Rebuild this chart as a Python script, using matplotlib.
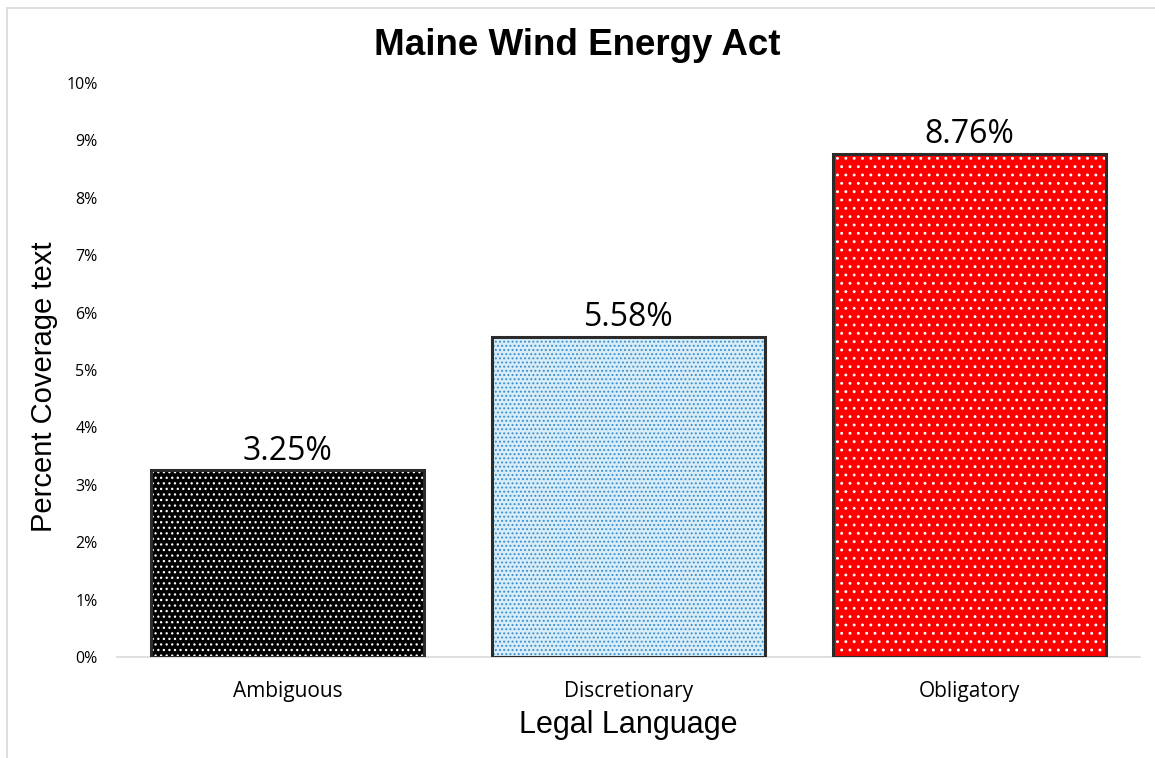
import matplotlib.pyplot as plt
from matplotlib.lines import Line2D
from matplotlib.ticker import PercentFormatter

categories = ['Ambiguous', 'Discretionary', 'Obligatory']
coverage = [3.25, 5.58, 8.76]
face_colors = ['#000000', '#d8edf8', '#ff0000']
dot_colors = ['#ffffff', '#3b8fcc', '#ffffff']
hatches = ['...', '....', '..']

plt.rcParams['hatch.linewidth'] = 0.9

fig = plt.figure(figsize=(11.55, 7.58), dpi=100)
ax = fig.add_axes([0.1013, 0.1332, 0.8857, 0.7573])

x = range(len(categories))
# filled bars carry the dot pattern, a second pass draws the dark outline
for i in x:
    ax.bar(i, coverage[i], width=0.8, color=face_colors[i], edgecolor=dot_colors[i],
           hatch=hatches[i], linewidth=0, zorder=2)
ax.bar(x, coverage, width=0.8, fill=False, edgecolor='#2b2b2b', linewidth=2.2, zorder=3)

for i in x:
    ax.text(i, coverage[i] + 0.19, f'{coverage[i]:.2f}%', ha='center', va='baseline',
            fontsize=23, family='Open Sans')

ax.set_xlim(-0.5, 2.5)
ax.set_ylim(0, 10)
ax.set_yticks(range(0, 11))
ax.yaxis.set_major_formatter(PercentFormatter(decimals=0))
ax.set_xticks(list(x))
ax.set_xticklabels(categories, family='Open Sans', fontsize=15)
for lbl in ax.get_yticklabels():
    lbl.set_family('Open Sans')
    lbl.set_fontsize(11.5)
ax.tick_params(length=0)
ax.tick_params(axis='x', pad=17)
ax.tick_params(axis='y', pad=14)

for side in ['top', 'right', 'left']:
    ax.spines[side].set_visible(False)
ax.spines['bottom'].set_color('#d9d9d9')
ax.spines['bottom'].set_linewidth(1.2)

ax.set_xlabel('Legal Language', family='Liberation Sans', fontsize=22, va='center')
ax.xaxis.set_label_coords(0.5, -0.118)
ax.set_ylabel('Percent Coverage text', family='Liberation Sans', fontsize=21, va='center')
ax.yaxis.set_label_coords(-0.0713, 0.47)
fig.text(0.5, 0.9406, 'Maine Wind Energy Act', family='Liberation Sans', fontweight='bold',
         fontsize=26.5, ha='center', va='center')

# thin frame around the chart area
fig.add_artist(Line2D([0.006, 1.0], [0.9895, 0.9895], color='#d9d9d9', linewidth=1.2))
fig.add_artist(Line2D([0.006, 0.006], [0.0, 0.9895], color='#d9d9d9', linewidth=1.2))

fig.savefig('out.png', dpi=100)
